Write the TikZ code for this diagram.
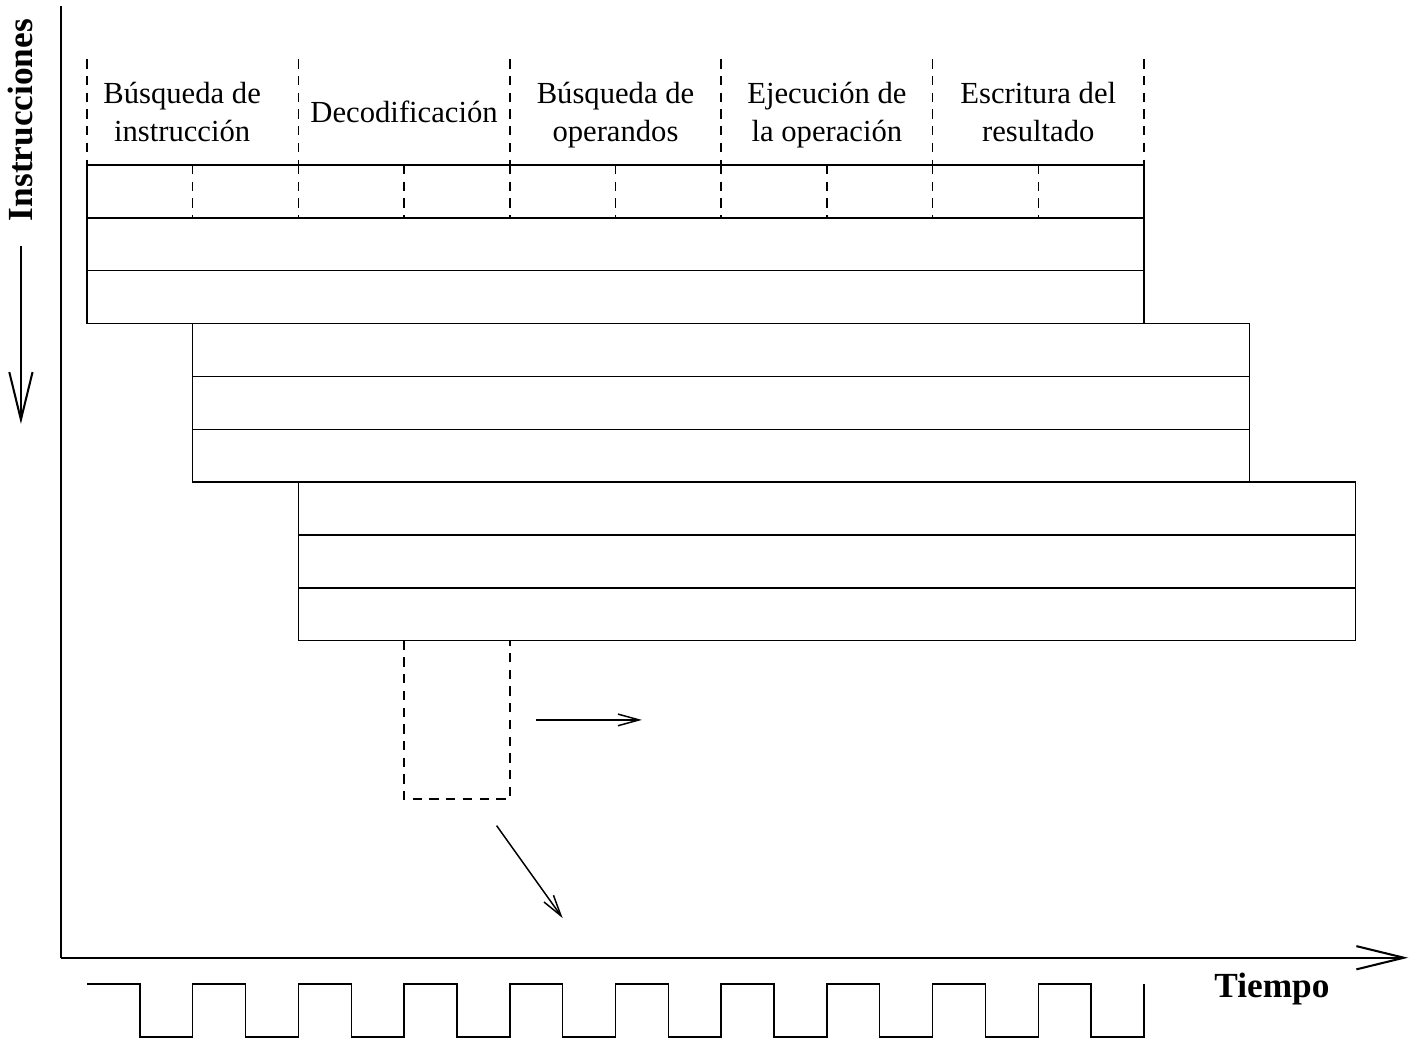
\documentclass[tikz,border=0pt]{standalone}
\usepackage{fontspec}
\setmainfont{Liberation Serif}
\usetikzlibrary{arrows.meta,positioning}

\begin{document}
\begin{tikzpicture}[line width=0.8pt,
	stage/.style={align=center, font=\fontsize{16.5}{20.5}\selectfont},
	axislabel/.style={font=\fontsize{19}{22}\selectfont\bfseries, inner sep=0pt},
	etapa/.style={dash pattern=on 5pt off 4pt},
	bigarrow/.style={-{Straight Barb[length=0.9cm,width=0.44cm]}, line width=1.1pt},
	smallarrow/.style={-{Straight Barb[length=0.4cm,width=0.22cm]}}]
			\useasboundingbox (-1.646,3.122) rectangle (25.109,-16.537);
			
			% etapas
			\node[stage] (s1) at (1.8,0.95) {Búsqueda de\strut\\instrucción\strut};
			\node[stage] (s2) at (6,0.95) {Decodificación\strut};
			\node[stage] (s3) at (10,0.95) {Búsqueda de\strut\\operandos\strut};
			\node[stage] (s4) at (14,0.95) {Ejecución de\strut\\la operación\strut};
			\node[stage] (s5) at (18,0.95) {Escritura del\strut\\resultado\strut};
			
			\foreach \x in {0,4,...,20} \draw[etapa] (\x,2) -- (\x,0);
			\foreach \x in {4,8,12,16} \draw[etapa] (\x,0) -- (\x,-1);
			\foreach \x in {2,6,...,18} \draw[etapa] (\x,0) -- (\x,-1);
			
			% instrucciones
			\foreach \r in {0,...,8} {
				\pgfmathtruncatemacro\b{2*int(\r/3)}
				\draw (\b,-\r) rectangle ++(20,-1);
			}
			
			\draw[etapa] (6,-9) rectangle (8,-12);
			\coordinate (h1) at (8.5,-10.5);
			\coordinate (h2) at (10.5,-10.5);
			\coordinate (d1) at (7.75,-12.5);
			\coordinate (d2) at (9,-14.25);
			\draw[smallarrow] (h1) -- (h2);
			\draw[smallarrow] (d1) -- (d2);
			
			% ejes
			\coordinate (origen) at (-0.5,-15);
			\coordinate (ytop) at (-0.5,3);
			\coordinate (xend) at (25,-15);
			\draw[line width=1.1pt] (ytop) -- (origen);
			\draw[bigarrow] (origen) -- (xend);
			
			\node[axislabel, rotate=90] (instr) at (-1.25,0.85) {Instrucciones};
			\coordinate (abajo) at (-1.25,-4.9);
			\draw[bigarrow, shorten <=0.45cm] (instr.west) -- (abajo);
			\node[axislabel, anchor=base] (tiempo) at (22.42,-15.76) {Tiempo};
			
			% reloj
			\draw (0,-15.5) \foreach \i in {0,...,9} { -| (2*\i+1,-16.5) -| (2*\i+2,-15.5) };
			
\end{tikzpicture}
\end{document}
